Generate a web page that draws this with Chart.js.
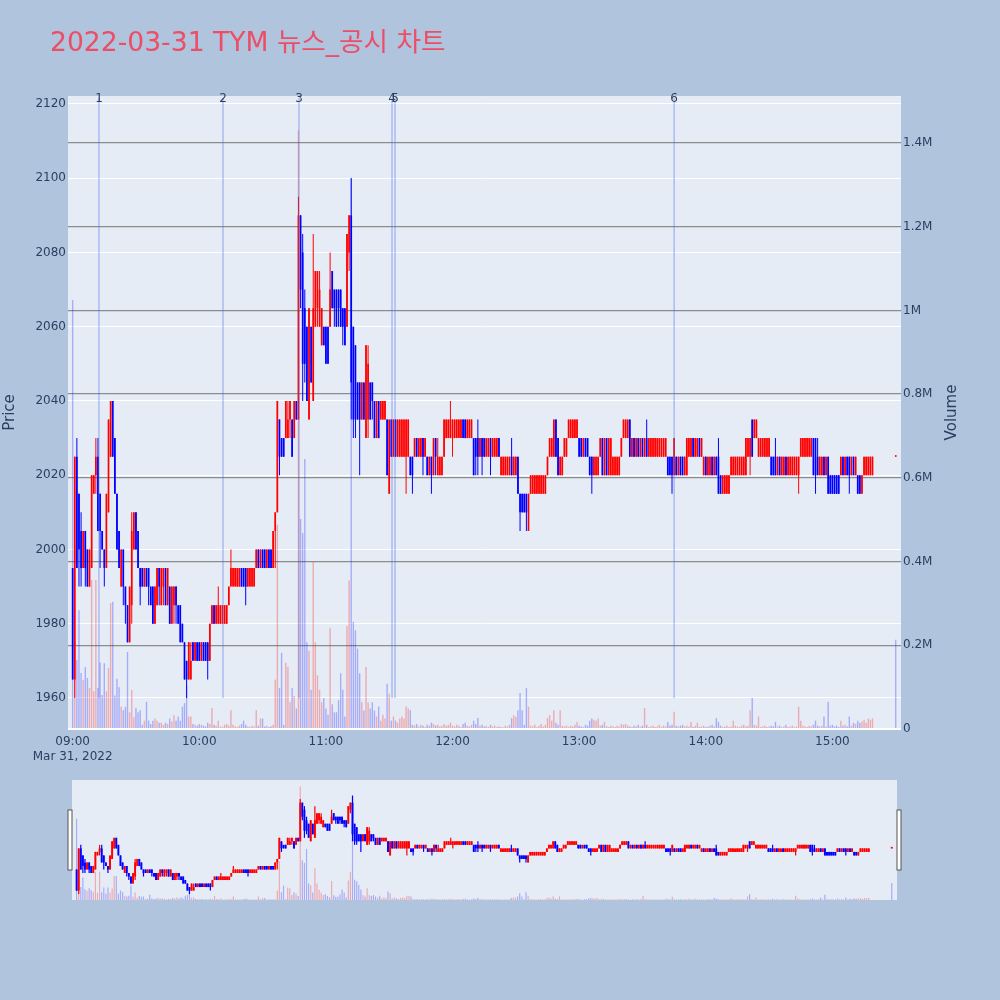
<!DOCTYPE html>
<html>
<head>
<meta charset="utf-8">
<script src="https://cdn.jsdelivr.net/npm/chart.js@4/dist/chart.umd.min.js"></script>
<style>
html,body{margin:0;padding:0;background:#b0c4de;}
#wrap{position:relative;width:1000px;height:1000px;background:#b0c4de;overflow:hidden;}
#main{position:absolute;left:0;top:0;}
#slider{position:absolute;left:0;top:760px;}
</style>
</head>
<body>
<div id="wrap">
<canvas id="main" width="1000" height="1000"></canvas>
<canvas id="slider" width="1000" height="160"></canvas>
</div>
<script>
// ---------------- data ----------------
const chartTitle = '2022-03-31 TYM 뉴스_공시 차트';
const dateLabel = 'Mar 31, 2022';
const sessionStart = '09:00';
const timeTicks = ['09:00','10:00','11:00','12:00','13:00','14:00','15:00'];
const priceTicks = [1960,1980,2000,2020,2040,2060,2080,2100,2120];
const volumeTicks = [0,200000,400000,600000,800000,1000000,1200000,1400000];
const newsTimes = ['09:12:28','10:11:14','10:47:15','11:31:20','11:32:45','13:45:00'];
const newsLabels = ['1','2','3','4','5','6'];

// one candle per minute from 09:00 to 15:19
const openP = [
1995,1965,2025,2015,2005,1995,2005,2000,1990,1995,
2015,2020,2025,2015,2005,2000,1995,2010,2025,2040,
2030,2015,2005,1990,2000,1990,1985,1975,1985,2000,
2010,2005,1995,1995,1990,1995,1995,1990,1990,1980,
1985,1995,1985,1990,1995,1985,1990,1980,1985,1990,
1985,1985,1980,1975,1970,1965,1965,1975,1970,1975,
1975,1970,1975,1975,1975,1970,1980,1985,1980,1980,
1980,1980,1980,1980,1985,1990,1990,1990,1990,1990,
1995,1995,1995,1990,1990,1990,1990,1995,2000,1995,
2000,2000,1995,2000,2000,1995,2005,2010,2035,2030,
2030,2030,2030,2035,2035,2030,2040,2035,2090,2080,
2065,2060,2035,2060,2040,2060,2065,2060,2055,2060,
2060,2060,2060,2075,2070,2070,2070,2070,2065,2065,
2060,2080,2090,2060,2055,2045,2045,2035,2045,2030,
2035,2045,2045,2040,2030,2040,2035,2035,2035,2035,
2015,2035,2025,2035,2025,2025,2025,2025,2025,2025,
2025,2025,2025,2030,2025,2025,2030,2025,2025,2020,
2025,2020,2030,2020,2020,2020,2025,2030,2030,2030,
2030,2030,2030,2030,2030,2035,2035,2030,2030,2030,
2030,2030,2030,2025,2030,2030,2025,2025,2030,2025,
2025,2025,2030,2020,2020,2020,2020,2020,2025,2020,
2020,2025,2015,2015,2015,2015,2005,2015,2015,2015,
2015,2015,2015,2015,2015,2020,2025,2025,2025,2035,
2030,2020,2020,2025,2025,2030,2030,2030,2030,2030,
2030,2030,2025,2030,2030,2025,2025,2020,2020,2020,
2025,2030,2020,2030,2020,2020,2020,2020,2020,2020,
2025,2030,2030,2030,2035,2025,2030,2025,2030,2025,
2030,2025,2030,2025,2025,2025,2025,2025,2025,2025,
2025,2025,2025,2025,2025,2020,2025,2020,2025,2025,
2020,2020,2025,2025,2030,2025,2025,2030,2025,2020,
2025,2020,2020,2025,2020,2025,2025,2020,2015,2015,
2015,2015,2020,2020,2020,2020,2020,2020,2020,2020,
2025,2025,2035,2030,2030,2025,2025,2025,2025,2025,
2025,2025,2025,2025,2020,2025,2020,2020,2025,2020,
2020,2020,2020,2020,2020,2025,2025,2025,2025,2025,
2025,2030,2030,2025,2020,2020,2025,2020,2025,2020,
2020,2020,2020,2020,2020,2025,2020,2025,2025,2020,
2025,2020,2020,2020,2015,2020,2020,2020,2020,2020
];
const highP = [
1995,2025,2030,2015,2010,2005,2005,2000,2000,2020,
2020,2030,2030,2015,2005,2000,2015,2035,2040,2040,
2030,2015,2005,2000,2000,1990,1985,1990,2010,2010,
2010,2005,1995,1995,1995,1995,1995,1990,1990,1990,
1995,1995,1995,1995,1995,1995,1990,1990,1990,1990,
1985,1985,1980,1975,1970,1975,1975,1975,1975,1975,
1975,1975,1975,1975,1975,1980,1985,1985,1985,1990,
1985,1985,1985,1985,1990,2000,1995,1995,1995,1995,
1995,1995,1995,1995,1995,1995,1995,2000,2000,2000,
2000,2000,2000,2000,2000,2005,2010,2040,2035,2030,
2030,2040,2040,2040,2035,2040,2040,2095,2090,2085,
2070,2060,2065,2060,2085,2075,2075,2075,2065,2060,
2060,2060,2080,2075,2070,2070,2070,2070,2065,2065,
2085,2090,2100,2060,2055,2045,2045,2045,2045,2055,
2055,2045,2045,2040,2040,2040,2040,2040,2040,2035,
2035,2035,2035,2035,2035,2035,2035,2035,2035,2035,
2025,2025,2030,2030,2030,2030,2030,2030,2025,2025,
2025,2030,2030,2030,2025,2025,2035,2035,2035,2040,
2035,2035,2035,2035,2035,2035,2035,2035,2035,2035,
2030,2030,2035,2030,2030,2030,2030,2030,2030,2030,
2030,2030,2030,2025,2025,2025,2025,2025,2030,2025,
2025,2025,2015,2015,2015,2015,2015,2020,2020,2020,
2020,2020,2020,2020,2020,2025,2030,2030,2035,2035,
2030,2025,2025,2030,2030,2035,2035,2035,2035,2035,
2030,2030,2030,2030,2030,2025,2025,2025,2025,2025,
2030,2030,2030,2030,2030,2030,2025,2025,2025,2025,
2030,2035,2035,2035,2035,2030,2030,2030,2030,2030,
2030,2030,2035,2030,2030,2030,2030,2030,2030,2030,
2030,2030,2025,2025,2025,2030,2025,2025,2025,2025,
2025,2030,2030,2030,2030,2030,2030,2030,2030,2025,
2025,2025,2025,2025,2025,2025,2030,2020,2020,2020,
2020,2020,2025,2025,2025,2025,2025,2025,2025,2030,
2030,2030,2035,2035,2035,2030,2030,2030,2030,2030,
2030,2025,2025,2030,2025,2025,2025,2025,2025,2025,
2025,2025,2025,2025,2025,2030,2030,2030,2030,2030,
2030,2030,2030,2030,2025,2025,2025,2025,2025,2020,
2020,2020,2020,2020,2025,2025,2025,2025,2025,2025,
2025,2025,2020,2020,2020,2025,2025,2025,2025,2025
];
const lowP = [
1965,1960,1995,1990,1990,1995,1990,1990,1990,1995,
2015,2015,2005,1995,2000,1990,1995,2010,2025,2025,
2015,2000,1995,1990,1985,1980,1975,1975,1980,2000,
2000,1995,1985,1990,1990,1990,1985,1985,1980,1980,
1985,1985,1985,1985,1985,1985,1980,1980,1980,1980,
1980,1975,1975,1965,1960,1965,1965,1970,1970,1970,
1970,1970,1970,1970,1965,1970,1980,1980,1980,1980,
1980,1980,1980,1980,1985,1990,1990,1990,1990,1990,
1990,1990,1985,1990,1990,1990,1990,1995,1995,1995,
1995,1995,1995,1995,1995,1995,1995,2010,2020,2025,
2025,2030,2030,2030,2025,2030,2035,2035,2065,2040,
2045,2040,2035,2045,2040,2060,2060,2060,2055,2055,
2050,2050,2060,2065,2060,2060,2060,2060,2055,2055,
2060,2075,2035,2030,2030,2035,2020,2035,2035,2030,
2030,2035,2035,2030,2030,2030,2035,2035,2035,2020,
2015,2025,2025,2025,2025,2025,2025,2025,2015,2025,
2020,2015,2025,2025,2025,2025,2020,2025,2020,2020,
2015,2020,2020,2020,2020,2020,2025,2030,2030,2030,
2025,2030,2030,2030,2030,2030,2030,2030,2030,2030,
2020,2020,2020,2025,2020,2025,2025,2025,2020,2025,
2025,2025,2025,2020,2020,2020,2020,2020,2020,2020,
2020,2015,2005,2010,2010,2005,2005,2015,2015,2015,
2015,2015,2015,2015,2015,2020,2025,2025,2025,2025,
2020,2020,2020,2025,2025,2030,2030,2030,2030,2030,
2025,2025,2025,2025,2025,2020,2015,2020,2020,2020,
2025,2020,2020,2020,2020,2020,2020,2020,2020,2020,
2025,2030,2030,2030,2025,2025,2025,2025,2025,2025,
2025,2025,2025,2025,2025,2025,2025,2025,2025,2025,
2025,2025,2020,2020,2015,2020,2020,2020,2020,2020,
2020,2020,2025,2025,2025,2025,2025,2025,2025,2020,
2020,2020,2020,2020,2020,2020,2015,2015,2015,2015,
2015,2015,2020,2020,2020,2020,2020,2020,2020,2020,
2025,2020,2025,2030,2030,2025,2025,2025,2025,2025,
2025,2020,2020,2020,2020,2020,2020,2020,2020,2020,
2020,2020,2020,2020,2015,2025,2025,2025,2025,2025,
2025,2020,2015,2020,2020,2020,2020,2020,2015,2015,
2015,2015,2015,2015,2020,2020,2020,2020,2015,2020,
2020,2020,2015,2015,2015,2020,2020,2020,2020,2020
];
const closeP = [
1965,2025,1995,2000,1995,2005,1995,1990,2000,2020,
2020,2025,2005,2005,2000,1995,2015,2035,2040,2025,
2015,2000,1995,2000,1990,1985,1975,1990,2005,2010,
2000,1995,1990,1990,1995,1990,1990,1985,1980,1990,
1995,1990,1995,1995,1985,1995,1980,1990,1990,1985,
1980,1975,1975,1965,1965,1975,1970,1970,1975,1970,
1970,1975,1970,1970,1970,1980,1985,1980,1985,1985,
1985,1985,1985,1985,1990,1995,1995,1995,1995,1995,
1990,1990,1990,1995,1995,1995,1995,2000,1995,2000,
1995,1995,2000,1995,1995,2005,2010,2040,2025,2025,
2025,2040,2035,2040,2025,2040,2035,2090,2070,2050,
2050,2040,2065,2045,2065,2075,2075,2070,2065,2055,
2050,2050,2070,2065,2065,2060,2065,2060,2060,2055,
2085,2090,2045,2035,2035,2035,2035,2045,2035,2055,
2050,2035,2040,2030,2040,2030,2040,2040,2040,2020,
2035,2025,2035,2025,2035,2035,2035,2035,2035,2035,
2020,2020,2030,2025,2030,2030,2025,2030,2020,2025,
2020,2030,2025,2025,2025,2025,2035,2035,2035,2035,
2035,2035,2035,2035,2035,2030,2030,2035,2035,2035,
2020,2025,2025,2030,2025,2025,2030,2030,2025,2030,
2030,2030,2025,2025,2025,2025,2025,2025,2020,2025,
2025,2015,2010,2010,2010,2010,2015,2020,2020,2020,
2020,2020,2020,2020,2020,2025,2030,2030,2035,2025,
2020,2025,2025,2030,2030,2035,2035,2035,2035,2035,
2025,2025,2030,2025,2025,2020,2020,2025,2025,2025,
2030,2020,2030,2020,2030,2030,2025,2025,2025,2025,
2030,2035,2035,2035,2025,2030,2025,2030,2025,2030,
2025,2030,2025,2030,2030,2030,2030,2030,2030,2030,
2030,2030,2020,2020,2020,2030,2020,2025,2020,2020,
2025,2030,2030,2030,2025,2030,2030,2025,2030,2025,
2020,2025,2025,2020,2025,2020,2015,2015,2020,2020,
2020,2020,2025,2025,2025,2025,2025,2025,2025,2030,
2030,2030,2025,2035,2035,2030,2030,2030,2030,2030,
2030,2020,2020,2020,2025,2020,2025,2025,2020,2025,
2025,2025,2025,2025,2025,2030,2030,2030,2030,2030,
2030,2020,2020,2020,2025,2025,2020,2025,2015,2015,
2015,2015,2015,2015,2025,2020,2025,2020,2020,2025,
2020,2025,2015,2015,2020,2025,2025,2025,2025,2025
];
const volume = [
1025000,208000,165000,284000,134000,117000,148000,122000,98000,356000,
90000,356000,98000,158000,81000,157000,90000,146000,301000,304000,
80000,120000,100000,53000,45000,53000,184000,40000,93000,28000,
50000,40000,45000,10000,20000,65000,20000,12000,20000,25000,
20000,15000,15000,10000,15000,12000,25000,18000,33000,20000,
30000,20000,53000,62000,105000,30000,30000,12000,10000,8000,
12000,10000,8000,6000,15000,12000,50000,10000,8000,20000,
6000,5000,10000,12000,8000,45000,10000,6000,5000,8000,
12000,20000,10000,6000,5000,8000,6000,45000,8000,25000,
25000,6000,8000,5000,6000,10000,118000,488000,98000,182000,
10000,158000,148000,64000,98000,79000,49000,1430000,502000,468000,
645000,207000,187000,94000,399000,207000,128000,94000,64000,74000,
49000,34000,241000,59000,40000,40000,69000,133000,94000,30000,
246000,355000,1317000,256000,236000,192000,133000,64000,44000,148000,
64000,49000,64000,44000,30000,54000,20000,34000,25000,108000,
84000,20000,30000,20000,15000,25000,30000,25000,54000,49000,
45000,10000,8000,12000,6000,10000,8000,5000,10000,8000,
15000,12000,8000,10000,6000,8000,12000,8000,10000,15000,
8000,6000,10000,8000,5000,12000,15000,8000,6000,10000,
20000,12000,26000,8000,10000,6000,8000,5000,10000,6000,
8000,5000,6000,5000,4000,8000,6000,10000,26000,33000,
29000,45000,86000,45000,10000,98000,53000,8000,6000,10000,
5000,8000,12000,6000,10000,26000,33000,20000,45000,15000,
10000,45000,8000,6000,8000,5000,8000,6000,10000,17000,
8000,6000,5000,10000,8000,20000,25000,22000,20000,25000,
8000,10000,17000,6000,5000,8000,6000,5000,8000,6000,
12000,10000,12000,8000,6000,5000,8000,6000,10000,5000,
8000,50000,10000,5000,6000,8000,5000,6000,10000,5000,
8000,6000,17000,8000,10000,41000,8000,6000,8000,10000,
6000,8000,6000,17000,5000,8000,15000,5000,6000,8000,
5000,6000,8000,10000,6000,26000,17000,8000,5000,6000,
8000,5000,6000,20000,8000,6000,5000,8000,10000,6000,
8000,45000,74000,10000,8000,30000,5000,6000,8000,5000,
6000,8000,6000,17000,6000,8000,5000,6000,10000,5000,
6000,8000,5000,6000,53000,20000,8000,6000,5000,8000,
6000,10000,20000,8000,6000,8000,30000,6000,65000,8000,
10000,6000,8000,5000,20000,8000,10000,6000,30000,8000,
15000,12000,20000,15000,18000,22000,15000,25000,22000,25000
];
// closing auction print
const auctionTime = '15:30';
const auctionOHLC = [2025, 2025, 2025, 2025];
const auctionVolume = 213000;

// ---------------- helpers ----------------
function toMin(t){ const p = t.split(':').map(Number); return (p[0]-9)*60 + p[1] + (p[2]||0)/60; }
const FONT = '"DejaVu Sans", "Noto Sans CJK KR", sans-serif';
const TXT = '#2a3f5f';
const UP = '#ff0000', DOWN = '#0000ff';
const UP_V = 'rgba(255,0,0,0.28)', DOWN_V = 'rgba(0,0,255,0.27)';

const t0 = toMin(sessionStart);
const X = openP.map((_, i) => t0 + i).concat([toMin(auctionTime)]);
const O = openP.concat([auctionOHLC[0]]);
const H = highP.concat([auctionOHLC[1]]);
const L = lowP.concat([auctionOHLC[2]]);
const C = closeP.concat([auctionOHLC[3]]);
const V = volume.concat([auctionVolume]);
const candleCol = X.map((_, i) => C[i] >= O[i] ? UP : DOWN);
const volCol = X.map((_, i) => C[i] > O[i] ? UP_V : DOWN_V);

const X_MIN = -2.2, X_MAX = 392.5;
const Y_MIN = 1951.65, Y_MAX = 2122.15;
const Y2_MAX = 1512300;

function makeDatasets(bodyW, wickW, volW){
  return [
    { label:'Volume', yAxisID:'y2', order:3, grouped:false,
      data: X.map((x,i)=>({x, y:V[i]})), backgroundColor: volCol, barThickness: volW, inflateAmount:0 },
    { label:'Wick', yAxisID:'y', order:2, grouped:false,
      data: X.map((x,i)=>({x, y:[L[i], H[i]]})), backgroundColor: candleCol, barThickness: wickW, minBarLength:1, inflateAmount:0 },
    { label:'Body', yAxisID:'y', order:1, grouped:false,
      data: X.map((x,i)=>({x, y:[O[i], C[i]]})), backgroundColor: candleCol, barThickness: bodyW, minBarLength:1.5, inflateAmount:0 }
  ];
}

Chart.defaults.font.family = FONT;
Chart.defaults.font.size = 12;
Chart.defaults.color = TXT;

const bgPlugin = {
  id:'bgPlot',
  beforeDraw(c){
    const {ctx, chartArea:a} = c;
    ctx.save();
    ctx.fillStyle = '#e5ecf6';
    ctx.fillRect(a.left, a.top, a.right-a.left, a.bottom-a.top);
    ctx.restore();
  }
};

const decorPlugin = {
  id:'decor',
  afterDatasetsDraw(c){
    const {ctx, chartArea:a, scales} = c;
    ctx.save();
    // news / disclosure markers
    const yb = scales.y.getPixelForValue(1960);
    newsTimes.forEach((t, i) => {
      const x = scales.x.getPixelForValue(toMin(t));
      ctx.strokeStyle = 'rgba(80,110,230,0.42)';
      ctx.lineWidth = 1.4;
      ctx.beginPath(); ctx.moveTo(x, a.top + 2); ctx.lineTo(x, yb); ctx.stroke();
      ctx.fillStyle = TXT;
      ctx.font = '12px ' + FONT;
      ctx.textAlign = 'center'; ctx.textBaseline = 'alphabetic';
      ctx.fillText(newsLabels[i], x, 101.5);
    });
    ctx.restore();
  },
  afterDraw(c){
    const {ctx, chartArea:a} = c;
    ctx.save();
    // title
    ctx.fillStyle = '#ec4e66';
    ctx.font = '26.6px ' + FONT;
    ctx.textAlign = 'left'; ctx.textBaseline = 'alphabetic';
    ctx.fillText(chartTitle, 50, 50.7);
    // axis titles
    ctx.fillStyle = TXT;
    ctx.font = '15px ' + FONT;
    ctx.textAlign = 'center'; ctx.textBaseline = 'middle';
    const cy = (a.top + a.bottom) / 2;
    ctx.save(); ctx.translate(10, cy); ctx.rotate(-Math.PI/2); ctx.fillText('Price', 0, 0); ctx.restore();
    ctx.save(); ctx.translate(952, cy); ctx.rotate(-Math.PI/2); ctx.fillText('Volume', 0, 0); ctx.restore();
    ctx.restore();
  }
};

new Chart(document.getElementById('main'), {
  type:'bar',
  data:{ datasets: makeDatasets(1.7, 1, 1.4) },
  options:{
    responsive:false, animation:false, devicePixelRatio:1,
    layout:{ padding:{ left:0, right:0, top:96, bottom:0 } },
    plugins:{ legend:{display:false}, tooltip:{enabled:false}, title:{display:false} },
    scales:{
      x:{ type:'linear', min:X_MIN, max:X_MAX, offset:false,
          grid:{ display:false, drawTicks:false }, border:{ display:false },
          afterBuildTicks: s => { s.ticks = timeTicks.map(t => ({ value: toMin(t) })); },
          ticks:{ padding:6, autoSkip:false, maxRotation:0, minRotation:0, color:TXT, font:{size:12},
                  callback:(v, i) => i === 0 ? [timeTicks[0], dateLabel] : timeTicks[i] },
          afterFit: s => { s.height = 271; } },
      y:{ type:'linear', position:'left', min:Y_MIN, max:Y_MAX,
          grid:{ color:'#ffffff', lineWidth:1, drawTicks:false }, border:{ display:false },
          afterBuildTicks: s => { s.ticks = priceTicks.map(v => ({ value: v })); },
          ticks:{ padding:2, color:TXT, font:{size:12}, callback: v => String(v) },
          afterFit: s => { s.width = 68; } },
      y2:{ type:'linear', position:'right', min:0, max:Y2_MAX,
          grid:{ color: ctx => (ctx.tick && ctx.tick.value === 0) ? '#ffffff' : '#8c8c8c', lineWidth: ctx => (ctx.tick && ctx.tick.value === 0) ? 2 : 1.3, drawTicks:false },
          border:{ display:false },
          afterBuildTicks: s => { s.ticks = volumeTicks.map(v => ({ value: v })); },
          ticks:{ padding:2, color:TXT, font:{size:12}, callback: v => v === 0 ? '0' : (v/1e6) + 'M' },
          afterFit: s => { s.width = 99; } }
    }
  },
  plugins:[bgPlugin, decorPlugin]
});

// ---------------- range slider ----------------
const sliderPlugin = {
  id:'sliderDecor',
  afterDraw(c){
    const {ctx, chartArea:a} = c;
    ctx.save();
    const hy = (a.top + a.bottom)/2;
    [a.left - 2.5, a.right + 1.5].forEach(x => {
      ctx.fillStyle = '#ffffff';
      ctx.strokeStyle = '#555555';
      ctx.lineWidth = 1;
      ctx.fillRect(x - 1.5, hy - 30, 4, 60);
      ctx.strokeRect(x - 1.5, hy - 30, 4, 60);
    });
    ctx.restore();
  }
};

new Chart(document.getElementById('slider'), {
  type:'bar',
  data:{ datasets: makeDatasets(1.9, 1.2, 1.2) },
  options:{
    responsive:false, animation:false, devicePixelRatio:1,
    layout:{ padding:{ left:72, right:103, top:20, bottom:20 } },
    plugins:{ legend:{display:false}, tooltip:{enabled:false} },
    scales:{
      x:{ type:'linear', min:X_MIN, max:X_MAX, offset:false, display:false },
      y:{ type:'linear', min:Y_MIN, max:Y_MAX, display:false },
      y2:{ type:'linear', min:0, max:Y2_MAX, display:false, position:'right' }
    }
  },
  plugins:[bgPlugin, sliderPlugin]
});
</script>
</body>
</html>
